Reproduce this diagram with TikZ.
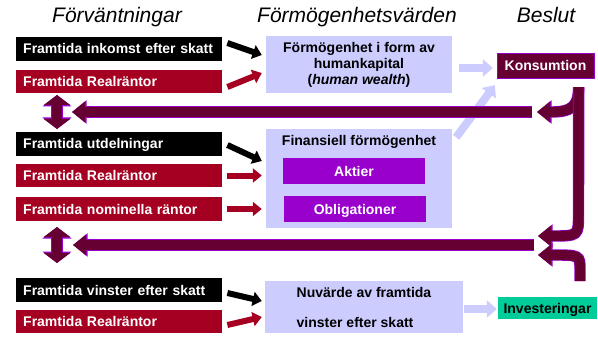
\documentclass[tikz,border=0pt]{standalone}
\usepackage{fontspec}
\setmainfont{Liberation Sans}
\usetikzlibrary{arrows.meta}
\definecolor{expred}{HTML}{A50021}
\definecolor{plum}{HTML}{660033}
\definecolor{lilac}{HTML}{CCCCFF}
\definecolor{grape}{HTML}{9900CC}
\definecolor{mint}{HTML}{00CC99}

\begin{document}
\begin{tikzpicture}[x=1pt, y=-1pt,
            every node/.style={font=\bfseries\fontsize{14}{16}\selectfont, inner sep=0pt},
            exp/.style={anchor=west, minimum height=23.5pt, text width=192pt, inner xsep=7pt, align=left, text=white, text height=10pt, text depth=0pt},
            val/.style={fill=lilac, align=center},
            asset/.style={fill=grape, text=white, minimum width=142pt, minimum height=26pt, text height=10pt, text depth=0pt},
            title/.style={anchor=base, font=\itshape\fontsize{21}{25}\selectfont}]
            \tikzset{small arrow/.style={line width=6pt, -{Triangle[width=14pt,length=9pt]}},
                light arrow/.style={draw=lilac, line width=8pt, -{Triangle[width=17pt,length=10pt]}},
                big arrow/.style={draw=plum, line width=10pt, -{Triangle[width=20pt,length=13pt]},
                    preaction={draw=grape, line width=11.4pt, -{Triangle[width=22.5pt,length=14.5pt]}}},
                big dbl/.style={draw=plum, line width=10pt, {Triangle[width=26pt,length=10pt]}-{Triangle[width=26pt,length=10pt]},
                    preaction={draw=grape, line width=11.4pt, {Triangle[width=28.5pt,length=11.5pt]}-{Triangle[width=28.5pt,length=11.5pt]}}}}
            \useasboundingbox (0,0) rectangle (598,337);
            \node[title] (t1) at (117,23) {Förväntningar};
            \node[title] (t2) at (357,23) {Förmögenhetsvärden};
            \node[title] (t3) at (546,23) {Beslut};
            \node[exp, fill=black] (e1) at (16,49) {Framtida inkomst efter skatt};
            \node[exp, fill=expred] (e2) at (16,81.5) {Framtida Realräntor};
            \node[exp, fill=black] (e3) at (16,144) {Framtida utdelningar};
            \node[exp, fill=expred] (e4) at (16,175.5) {Framtida Realräntor};
            \node[exp, fill=expred] (e5) at (16,209) {Framtida nominella räntor};
            \node[exp, fill=black] (e6) at (16,290) {Framtida vinster efter skatt};
            \node[exp, fill=expred] (e7) at (16,321.5) {Framtida Realräntor};
            \node[val, minimum width=186pt, minimum height=57pt] (hw) at (359,64.5) {Förmögenhet i form av\\humankapital\\(\textit{human wealth})};
            \node[val, minimum width=186pt, minimum height=99pt] (fw) at (359,178.5) {};
            \node (fwt) at (359,142) {Finansiell förmögenhet};
            \node[asset] (ak) at (354,171) {Aktier};
            \node[asset] (ob) at (355,209) {Obligationer};
            \node[val, minimum width=198pt, minimum height=52pt, align=left] (nv) at (364,307) {Nuvärde av framtida\\[14pt]vinster efter skatt};
            \node[fill=plum, draw=grape, text=white, minimum width=97pt, minimum height=25pt, text height=10pt, text depth=0pt] (ko) at (545.5,65.5) {Konsumtion};
            \node[fill=mint, minimum width=99pt, minimum height=22pt, text height=10pt, text depth=0pt] (in) at (547.5,308) {Investeringar};
            \draw[small arrow, black] ([xshift=5pt,yshift=6pt]e1.east) -- ([xshift=-4pt,yshift=9.5pt]hw.west);
            \draw[small arrow, expred] ([xshift=5pt,yshift=-5.5pt]e2.east) -- ([xshift=-4pt,yshift=-8.5pt]hw.west);
            \draw[small arrow, black] ([xshift=5pt,yshift=-1pt]e3.east) -- ([xshift=-4pt,yshift=17.5pt]fw.west);
            \draw[small arrow, expred] ([xshift=5pt]e4.east) -- ([xshift=-4pt,yshift=3pt]fw.west);
            \draw[small arrow, expred] ([xshift=5pt]e5.east) -- ([xshift=-4pt,yshift=-30.5pt]fw.west);
            \draw[small arrow, black] ([xshift=5pt,yshift=-3pt]e6.east) -- ([xshift=-3pt,yshift=6pt]nv.west);
            \draw[small arrow, expred] ([xshift=5pt,yshift=-3.5pt]e7.east) -- ([xshift=-3pt,yshift=-10pt]nv.west);
            \draw[light arrow] ([xshift=7pt,yshift=-3.5pt]hw.east) -- ([xshift=-4pt,yshift=-2.5pt]ko.west);
            \draw[light arrow] ([xshift=4pt,yshift=-8.5pt]fw.north east) -- ([xshift=-2pt,yshift=-7pt]ko.south west);
            \draw[light arrow] ([xshift=1pt,yshift=-2pt]nv.east) -- ([xshift=-1pt,yshift=-1pt]in.west);
            \coordinate (k0) at ([xshift=-15.5pt,yshift=-9pt]ko.south east);
            \coordinate (l1) at (537,112);
            \coordinate (l2) at (538,236);
            \coordinate (l3) at (538,255);
            \coordinate (l4) at (580,281);
            \coordinate (h1) at (532,112);
            \coordinate (h1e) at (72,112);
            \coordinate (h2) at (534,245);
            \coordinate (h2e) at (73,245);
            \coordinate (d1) at (57,95);
            \coordinate (d1e) at (57,129);
            \coordinate (d2) at (57,227);
            \coordinate (d2e) at (57,263);
            \draw[big arrow] (k0) .. controls (578.5,108) and (570,112) .. (l1);
            \draw[big arrow] (k0) -- (578.5,214) .. controls (578.5,236) .. (l2);
            \draw[big arrow] (l4) -- (580,270) .. controls (580,255) .. (l3);
            \draw[big arrow] (h1) -- (h1e);
            \draw[big arrow] (h2) -- (h2e);
            \draw[big dbl] (d1) -- (d1e);
            \draw[big dbl] (d2) -- (d2e);
        \end{tikzpicture}
\end{document}
